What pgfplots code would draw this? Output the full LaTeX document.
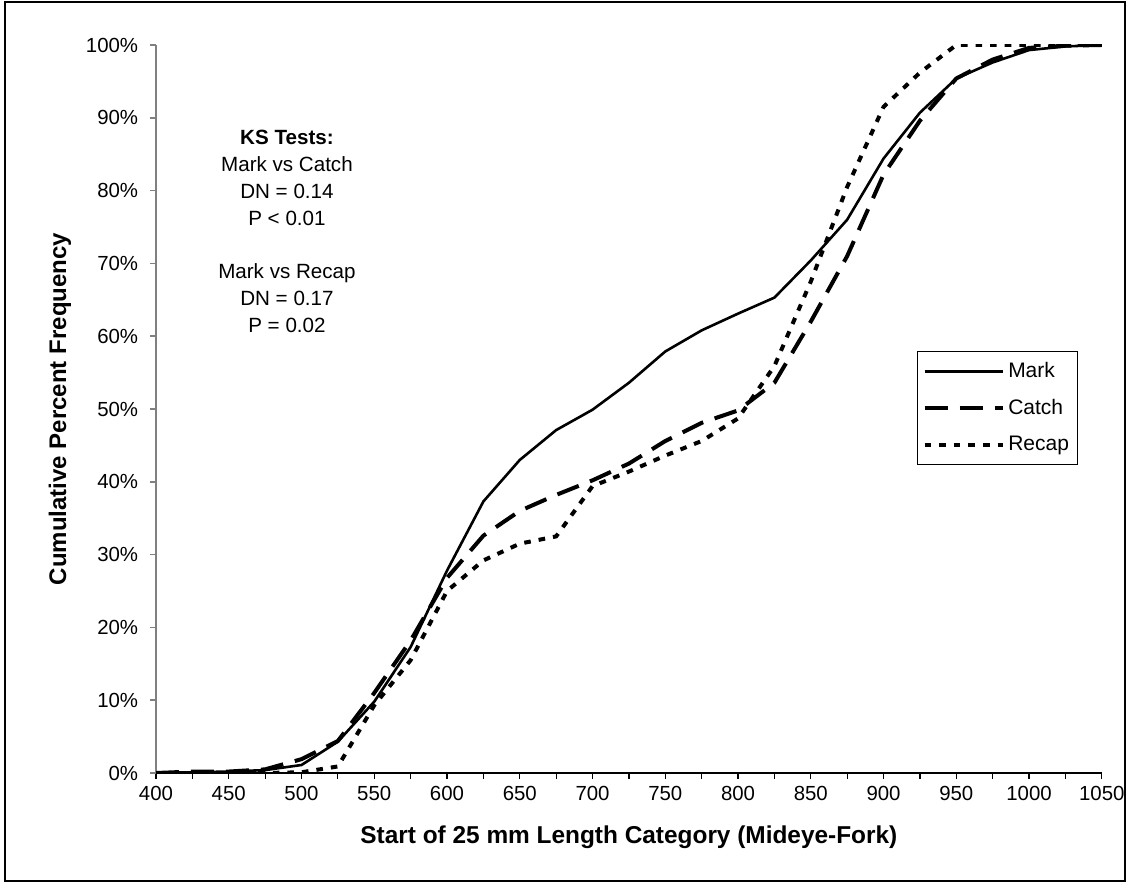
\documentclass[border=0pt]{standalone}
\usepackage{fontspec}
\setmainfont{Liberation Sans}
\usepackage{pgfplots}
\usepackage{pgfplotstable}
\pgfplotsset{compat=1.18}

% cumulative percent frequency by 25 mm length class
\pgfplotstableread{
x    mark  catch recap
400  0.0   0.0   0.0
425  0.1   0.2   0.0
450  0.2   0.2   0.0
475  0.4   0.5   0.0
500  1.1   1.9   0.1
525  4.3   4.4   0.9
550  9.8   11.0  9.3
575  17.3  18.2  15.5
600  27.8  26.8  25.0
625  37.3  32.6  29.2
650  43.0  36.0  31.5
675  47.1  38.2  32.5
700  49.9  40.2  39.4
725  53.6  42.5  41.4
750  57.9  45.6  43.6
775  60.8  48.1  45.6
800  63.1  49.8  48.7
825  65.3  53.6  55.9
850  70.4  62.0  67.5
875  76.0  71.0  80.5
900  84.4  82.2  91.5
925  90.7  89.6  96.2
950  95.4  95.4  100.0
975  97.6  98.0  100.0
1000 99.3  99.6  100.0
1025 99.8  99.9  100.0
1050 100.0 100.0 100.0
}\lendata

\begin{document}
\begin{tikzpicture}
\useasboundingbox (0,0) rectangle (564pt,441.5pt);
\draw[line width=1pt] (2.5pt,1pt) rectangle (562.5pt,440.5pt);
\begin{axis}[
    at={(78pt,55pt)}, anchor=south west,
    scale only axis,
    width=472.9pt, height=364pt,
    xmin=400, xmax=1050,
    ymin=0, ymax=100,
    axis x line*=bottom,
    axis y line*=left,
    x axis line style={black, line width=0.6pt},
    y axis line style={gray, line width=0.8pt},
    xtick={400,450,...,1050},
    minor xtick={425,475,...,1025},
    ytick={0,10,...,100},
    yticklabel={\pgfmathprintnumber{\tick}\%},
    tick align=outside,
    major tick length=3pt,
    minor tick length=3pt,
    xtick style={black, line width=0.6pt},
    minor x tick style={black, line width=0.6pt},
    ytick style={gray, line width=0.8pt},
    /pgf/number format/assume math mode=true,
    /pgf/number format/1000 sep={},
    tick label style={font=\fontsize{10.2}{12}\selectfont},
    yticklabel style={xshift=-2.4pt},
    xlabel={Start of 25 mm Length Category (Mideye-Fork)},
    ylabel={Cumulative Percent Frequency},
    xlabel style={font=\bfseries\fontsize{12.2}{14}\selectfont,
        at={(axis description cs:0.5,-0.088)}, anchor=center},
    ylabel style={font=\bfseries\fontsize{12}{14}\selectfont,
        at={(axis description cs:-0.1015,0.5)}, anchor=center, rotate=0},
    legend style={at={(0.975,0.58)}, anchor=north east,
        draw=black, line width=0.6pt,
        font=\fontsize{10.5}{12}\selectfont,
        row sep=7.3pt, inner xsep=2.5pt, inner ysep=4.5pt,
        nodes={inner xsep=1.8pt, inner ysep=1pt},
        cells={anchor=west}},
    legend image code/.code={\draw[#1] (0pt,0pt) -- (39pt,0pt);},
]
\addplot[black, line width=1.3pt, line join=round] table[x=x, y=mark] {\lendata};
\addlegendentry{Mark}
\addplot[black, line width=2pt, dash pattern=on 11.5pt off 6pt] table[x=x, y=catch] {\lendata};
\addlegendentry{Catch}
\addplot[black, line width=2pt, dash pattern=on 3.3pt off 4pt] table[x=x, y=recap] {\lendata};
\addlegendentry{Recap}

\node[align=center, anchor=center, font=\fontsize{10.3}{13.4}\selectfont]
    at (axis cs:490,74.4)
    {\textbf{KS Tests:}\\Mark vs Catch\\DN = 0.14\\P < 0.01\\[13.4pt]Mark vs Recap\\DN = 0.17\\P = 0.02};
\end{axis}
\end{tikzpicture}
\end{document}
